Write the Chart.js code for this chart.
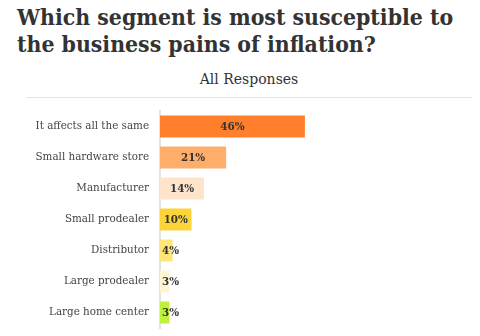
<!DOCTYPE html>
<html>
<head>
<meta charset="utf-8">
<script src="https://cdn.jsdelivr.net/npm/chart.js@4.4.1/dist/chart.umd.min.js"></script>
<style>
  html, body { margin: 0; padding: 0; background: #ffffff; }
  body { width: 480px; height: 336px; position: relative; overflow: hidden; }
  #title {
    position: absolute; left: 17px; top: 4px; margin: 0;
    font-family: 'DejaVu Serif Condensed', 'DejaVu Serif', serif;
    font-weight: bold; font-size: 22.8px; line-height: 27px; color: #333333;
    white-space: nowrap;
  }
  #subtitle {
    position: absolute; left: 26px; width: 446px; top: 69px; margin: 0;
    text-align: center;
    font-family: 'DejaVu Serif', serif;
    font-size: 14px; line-height: 20px; color: #333333;
  }
  #sep { position: absolute; left: 26px; width: 446px; top: 97px; height: 1px; background: #e4e4e4; }
  #wrap { position: absolute; left: 0; top: 100px; width: 480px; height: 236px; }
  canvas { display: block; }
</style>
</head>
<body>
<div id="title">Which segment is most susceptible to<br>the business pains of inflation?</div>
<div id="subtitle">All Responses</div>
<div id="sep"></div>
<div id="wrap"><canvas id="c" width="480" height="236"></canvas></div>
<script>
const categories = [
  "It affects all the same",
  "Small hardware store",
  "Manufacturer",
  "Small prodealer",
  "Distributor",
  "Large prodealer",
  "Large home center"
];
const values = [46, 21, 14, 10, 4, 3, 3];
const valueLabels = ["46%", "21%", "14%", "10%", "4%", "3%", "3%"];
const barColors = ["#FF7F2C", "#FFAD6B", "#FFE4CC", "#FCD43A", "#FFE57A", "#FFF5D2", "#BEF23A"];

const FONT = "'DejaVu Serif Condensed', 'DejaVu Serif', serif";

const valueLabelPlugin = {
  id: 'valueLabels',
  afterDatasetsDraw(chart) {
    const ctx = chart.ctx;
    const meta = chart.getDatasetMeta(0);
    const left = chart.chartArea.left;
    ctx.save();
    ctx.font = "bold 11.5px " + FONT;
    ctx.fillStyle = "#333333";
    ctx.textBaseline = "middle";
    ctx.textAlign = "center";
    meta.data.forEach((bar, i) => {
      const txt = valueLabels[i];
      const w = ctx.measureText(txt).width;
      let cx = (left + bar.x) / 2;
      cx = Math.max(cx, left + 2 + w / 2);
      ctx.fillText(txt, cx, bar.y + 0.5);
    });
    ctx.restore();
  }
};

new Chart(document.getElementById('c'), {
  type: 'bar',
  data: {
    labels: categories,
    datasets: [{
      data: values,
      backgroundColor: barColors,
      borderWidth: 0,
      barPercentage: 0.71,
      categoryPercentage: 1.0
    }]
  },
  options: {
    indexAxis: 'y',
    responsive: false,
    animation: false,
    layout: { padding: { top: 11, bottom: 8, left: 0, right: 5 } },
    plugins: {
      legend: { display: false },
      tooltip: { enabled: false },
      title: { display: false }
    },
    scales: {
      x: {
        display: false,
        min: 0,
        max: 100
      },
      y: {
        afterFit(scale) {
          scale.width = 160;
          scale.paddingTop = 0;
          scale.paddingBottom = 0;
        },
        grid: { display: false, drawTicks: false },
        border: { display: true, color: '#e3e3e3', width: 2 },
        ticks: {
          color: '#444444',
          padding: 11,
          font: { family: FONT, size: 11.5 }
        }
      }
    }
  },
  plugins: [valueLabelPlugin]
});
</script>
</body>
</html>
